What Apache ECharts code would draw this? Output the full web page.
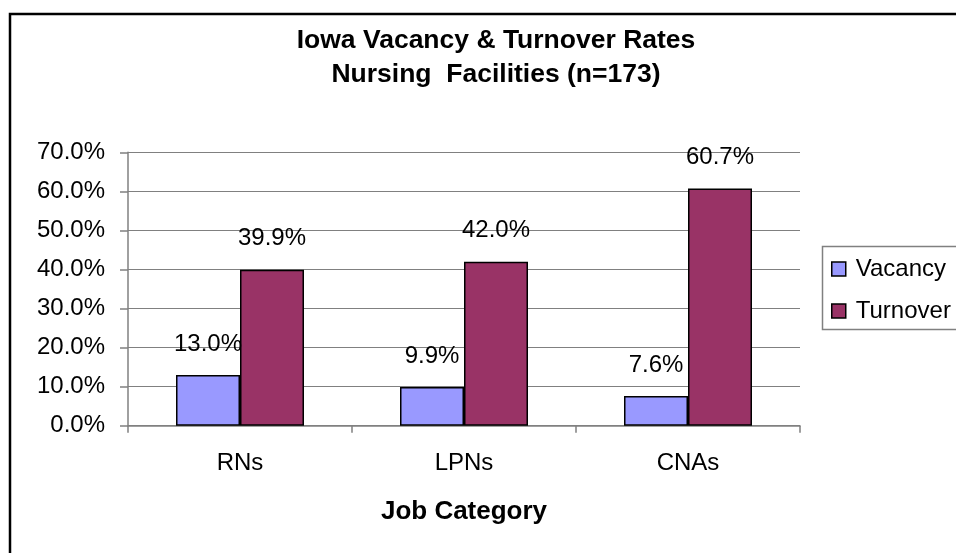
<!DOCTYPE html>
<html>
<head>
<meta charset="utf-8">
<script src="https://cdn.jsdelivr.net/npm/echarts@6/dist/echarts.min.js"></script>
<style>
html,body{margin:0;padding:0;background:#fff;}
#chart{width:956px;height:553px;}
</style>
</head>
<body>
<div id="chart"></div>
<script>
const categories = ['RNs', 'LPNs', 'CNAs'];
const vacancy = [13.0, 9.9, 7.6];
const turnover = [39.9, 42.0, 60.7];
const seriesNames = ['Vacancy', 'Turnover'];
const yTicks = { min: 0, max: 70, interval: 10 };
const titleText = 'Iowa Vacancy & Turnover Rates\nNursing  Facilities (n=173)';
const xAxisName = 'Job Category';

const FONT = '"Liberation Sans", Arial, sans-serif';
const chart = echarts.init(document.getElementById('chart'), null, { renderer: 'canvas' });
const pct = v => Number(v).toFixed(1) + '%';

chart.setOption({
  animation: false,
  backgroundColor: '#ffffff',
  graphic: [{
    type: 'rect',
    shape: { x: 10, y: 14, width: 1000, height: 700 },
    style: { fill: 'none', stroke: '#000', lineWidth: 2.5 },
    silent: true,
    z: -1
  }, {
    type: 'rect',
    shape: { x: 822.5, y: 246.5, width: 200, height: 83 },
    style: { fill: 'none', stroke: '#808080', lineWidth: 1.5 },
    silent: true,
    z: 5
  }],
  title: {
    text: titleText,
    left: 491,
    top: 19,
    textAlign: 'center',
    textStyle: {
      fontFamily: FONT, fontSize: 26.5, fontWeight: 'bold', color: '#000', lineHeight: 34
    }
  },
  legend: {
    orient: 'vertical',
    left: 822,
    top: 246,
    padding: [11, 10, 7, 9],
    itemGap: 18,
    itemWidth: 14,
    itemHeight: 14,
    icon: 'rect',
    borderWidth: 0,
    itemStyle: { borderColor: '#000', borderWidth: 1.5 },
    textStyle: { fontFamily: FONT, fontSize: 24, color: '#000', padding: [0, 0, 0, 5] },
    data: seriesNames
  },
  grid: { left: 128, right: 156, top: 152.3, bottom: 127.3, containLabel: false },
  xAxis: {
    type: 'category',
    data: categories,
    name: xAxisName,
    nameLocation: 'middle',
    nameGap: 73,
    nameTextStyle: { fontFamily: FONT, fontSize: 26, fontWeight: 'bold', color: '#000' },
    axisLine: { lineStyle: { color: '#808080', width: 1.5 } },
    axisTick: { show: true, length: 7, alignWithLabel: false, lineStyle: { color: '#808080', width: 1.5 } },
    axisLabel: { fontFamily: FONT, fontSize: 24, color: '#000', margin: 26 },
    splitLine: { show: false }
  },
  yAxis: {
    type: 'value',
    min: yTicks.min,
    max: yTicks.max,
    interval: yTicks.interval,
    axisLine: { show: true, lineStyle: { color: '#808080', width: 1.5 } },
    axisTick: { show: true, length: 8, lineStyle: { color: '#808080', width: 1.5 } },
    axisLabel: { fontFamily: FONT, fontSize: 24, color: '#000', margin: 23, formatter: v => pct(v) },
    splitLine: { show: true, lineStyle: { color: '#808080', width: 1 } }
  },
  series: [
    {
      name: seriesNames[0],
      type: 'bar',
      data: vacancy,
      barWidth: 64,
      barGap: '0%',
      itemStyle: { color: '#9999FF', borderColor: '#000', borderWidth: 1.5 },
      label: { show: true, position: 'top', distance: 19, fontFamily: FONT, fontSize: 24, color: '#000', formatter: p => pct(p.value) }
    },
    {
      name: seriesNames[1],
      type: 'bar',
      data: turnover,
      barWidth: 64,
      barGap: '0%',
      itemStyle: { color: '#993366', borderColor: '#000', borderWidth: 1.5 },
      label: { show: true, position: 'top', distance: 19, fontFamily: FONT, fontSize: 24, color: '#000', formatter: p => pct(p.value) }
    }
  ]
});
</script>
</body>
</html>
